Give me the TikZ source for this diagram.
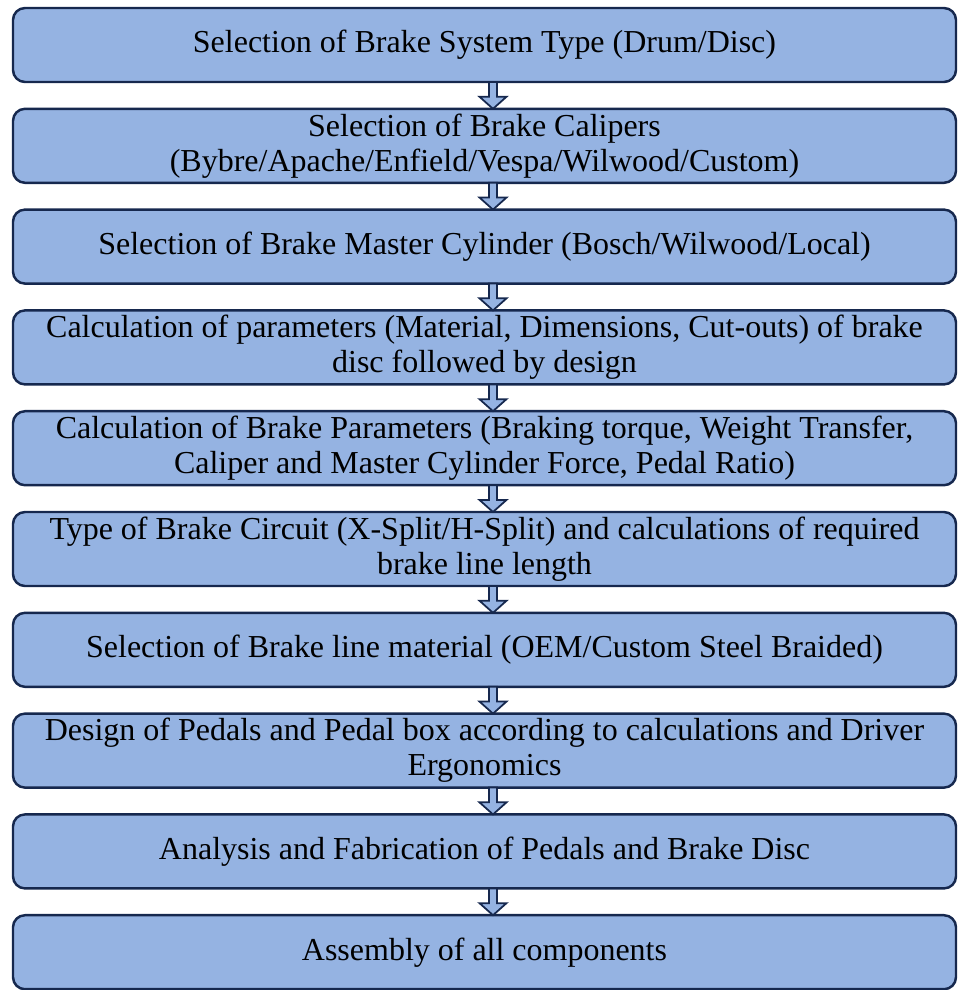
\documentclass[tikz,border=0pt]{standalone}
\usepackage{fontspec}
\setmainfont{Liberation Serif}
\usetikzlibrary{positioning,calc}
\definecolor{boxfill}{RGB}{149,179,226}
\definecolor{boxline}{RGB}{22,40,78}
% hollow block arrow between two stacked boxes
\newcommand{\flowarrow}[2]{%
  \draw[arrowbody] let \p1=([xshift=0.17cm]#1.south), \p2=([xshift=0.17cm]#2.north) in
    (\x1-0.08cm,\y1) -- (\x1+0.08cm,\y1) -- (\x1+0.08cm,{\y1+0.55*(\y2-\y1)})
    -- (\x1+0.27cm,{\y1+0.55*(\y2-\y1)}) -- (\x1,\y2) -- (\x1-0.27cm,{\y1+0.55*(\y2-\y1)})
    -- (\x1-0.08cm,{\y1+0.55*(\y2-\y1)}) -- cycle;}

\begin{document}
\begin{tikzpicture}[node distance=0.536cm, every node/.style={font=\fontsize{18.2}{19.9}\selectfont}, box/.style={draw=boxline,fill=boxfill,line width=1.4pt,rounded corners=0.24cm,align=center,minimum width=18.86cm,minimum height=1.48cm,inner sep=0pt,outer sep=0pt}, arrowbody/.style={draw=boxline,fill=boxfill,line width=1pt,line join=miter}]
\useasboundingbox (-9.69,0.90) rectangle (9.51,-18.90);
\node[box] (systype) {Selection of Brake System Type (Drum/Disc)};
\node[box, below=of systype] (caliper) {Selection of Brake Calipers\\(Bybre/Apache/Enfield/Vespa/Wilwood/Custom)};
\node[box, below=of caliper] (master) {Selection of Brake Master Cylinder (Bosch/Wilwood/Local)};
\node[box, below=of master] (disc) {Calculation of parameters (Material, Dimensions, Cut-outs) of brake\\disc followed by design};
\node[box, below=of disc] (params) {Calculation of Brake Parameters (Braking torque, Weight Transfer,\\Caliper and Master Cylinder Force, Pedal Ratio)};
\node[box, below=of params] (circuit) {Type of Brake Circuit (X-Split/H-Split) and calculations of required\\brake line length};
\node[box, below=of circuit] (brakeline) {Selection of Brake line material (OEM/Custom Steel Braided)};
\node[box, below=of brakeline] (pedals) {Design of Pedals and Pedal box according to calculations and Driver\\Ergonomics};
\node[box, below=of pedals] (fab) {Analysis and Fabrication of Pedals and Brake Disc};
\node[box, below=of fab] (assembly) {Assembly of all components};
\flowarrow{systype}{caliper}
\flowarrow{caliper}{master}
\flowarrow{master}{disc}
\flowarrow{disc}{params}
\flowarrow{params}{circuit}
\flowarrow{circuit}{brakeline}
\flowarrow{brakeline}{pedals}
\flowarrow{pedals}{fab}
\flowarrow{fab}{assembly}
\end{tikzpicture}
\end{document}
